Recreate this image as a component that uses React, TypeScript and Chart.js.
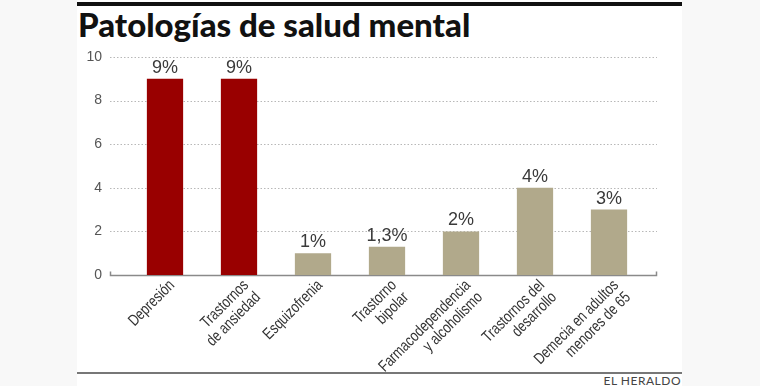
import React, { useEffect, useRef } from "react";
import { Chart, registerables } from "chart.js";

Chart.register(...registerables);

const title = "Patologías de salud mental";
const source = "EL HERALDO";
const categories: string[][] = [
  ["Depresión"],
  ["Trastornos", "de ansiedad"],
  ["Esquizofrenia"],
  ["Trastorno", "bipolar"],
  ["Farmacodependencia", "y alcoholismo"],
  ["Trastornos del", "desarrollo"],
  ["Demecia en adultos", "menores de 65"],
];
const values = [9, 9, 1, 1.3, 2, 4, 3];
const valueLabels = ["9%", "9%", "1%", "1,3%", "2%", "4%", "3%"];
const highlighted = [true, true, false, false, false, false, false];
const yMin = 0;
const yMax = 10;
const yStep = 2;

const RED = "#990000";
const TAN = "#b1a98b";

const gridPlugin = {
  id: "customGrid",
  beforeDatasetsDraw(chart: any) {
    const { ctx, scales } = chart;
    const y = scales.y;
    const left = 110;
    const right = 657;
    ctx.save();
    ctx.strokeStyle = "#b8b8b8";
    ctx.lineWidth = 1;
    ctx.setLineDash([1.5, 2]);
    for (let v = yMin + yStep; v <= yMax; v += yStep) {
      const py = Math.round(y.getPixelForValue(v)) + 0.5;
      ctx.beginPath();
      ctx.moveTo(left, py);
      ctx.lineTo(right, py);
      ctx.stroke();
    }
    ctx.setLineDash([]);
    ctx.strokeStyle = "#8a8a8a";
    ctx.lineWidth = 1.5;
    const by = Math.round(y.getPixelForValue(0)) + 0.5;
    ctx.beginPath();
    ctx.moveTo(left + 0.5, by - 4);
    ctx.lineTo(left + 0.5, by);
    ctx.lineTo(right - 0.5, by);
    ctx.lineTo(right - 0.5, by - 4);
    ctx.stroke();
    ctx.restore();
  },
  afterDatasetsDraw(chart: any) {
    const { ctx, scales, chartArea } = chart;
    const meta = chart.getDatasetMeta(0);
    ctx.save();
    ctx.fillStyle = "#3a3a3a";
    ctx.font = "18px 'Liberation Sans', Arial, sans-serif";
    ctx.textAlign = "center";
    ctx.textBaseline = "alphabetic";
    meta.data.forEach((bar: any, i: number) => {
      ctx.fillText(valueLabels[i], bar.x, bar.y - 6);
    });
    ctx.restore();

    // condensed, rotated category labels
    const x = scales.x;
    const fontSize = 16;
    const lh = 17;
    ctx.save();
    ctx.fillStyle = "#333";
    ctx.font = `${fontSize}px 'Liberation Sans', Arial, sans-serif`;
    ctx.textAlign = "right";
    ctx.textBaseline = "middle";
    categories.forEach((lines, i) => {
      const px = x.getPixelForValue(i);
      ctx.save();
      ctx.translate(px + 1, chartArea.bottom + 2);
      ctx.rotate(-Math.PI / 4);
      ctx.scale(0.79, 1);
      lines.forEach((line, k) => {
        ctx.fillText(line, 0, lh / 2 + k * lh);
      });
      ctx.restore();
    });
    ctx.restore();
  },
};

export default function App() {
  const ref = useRef<HTMLCanvasElement | null>(null);
  useEffect(() => {
    if (!ref.current) return;
    const chart = new Chart(ref.current, {
      type: "bar",
      data: {
        labels: categories.map((c) => c.join(" ")),
        datasets: [
          {
            data: values,
            backgroundColor: highlighted.map((h) => (h ? RED : TAN)),
            borderWidth: 0,
            categoryPercentage: 1,
            barPercentage: 0.49,
          },
        ],
      },
      options: {
        animation: false,
        responsive: false,
        maintainAspectRatio: false,
        layout: { padding: { left: 70, right: 114, top: 57, bottom: 11 } },
        plugins: { legend: { display: false }, tooltip: { enabled: false } },
        scales: {
          x: {
            grid: { display: false, drawTicks: false },
            border: { display: false },
            ticks: { display: false },
            afterFit: (s: any) => {
              s.height = 100;
            },
          },
          y: {
            min: yMin,
            max: yMax,
            grid: { display: false, drawTicks: false },
            border: { display: false },
            ticks: {
              stepSize: yStep,
              padding: 26,
              color: "#555",
              font: { family: "'Liberation Sans', Arial, sans-serif", size: 14 },
            },
            afterFit: (s: any) => {
              s.width = 58;
            },
          },
        },
      },
      plugins: [gridPlugin],
    });
    return () => chart.destroy();
  }, []);

  return (
    <div style={{ position: "fixed", left: 0, top: 0, width: 760, height: 386, background: "#f8f8f8", overflow: "hidden" }}>
      <div style={{ position: "absolute", left: 77, top: 0, width: 605, height: 386, background: "#fff" }} />
      <div style={{ position: "absolute", left: 77, top: 2, width: 605, height: 4, background: "#111" }} />
      <div
        style={{
          position: "absolute",
          left: 78,
          top: 4,
          fontFamily: "Lato, 'Liberation Sans', sans-serif",
          fontWeight: 900,
          fontSize: 33,
          color: "#111",
          whiteSpace: "nowrap",
          lineHeight: "40px",
        }}
      >
        {title}
      </div>
      <div style={{ position: "absolute", left: 77, top: 372, width: 605, height: 2, background: "#777" }} />
      <div
        style={{
          position: "absolute",
          right: 79,
          top: 374,
          fontFamily: "Lato, 'Liberation Sans', sans-serif",
          fontSize: 12,
          color: "#444",
          letterSpacing: 0.5,
          lineHeight: "14px",
        }}
      >
        {source}
      </div>
      <canvas ref={ref} width={760} height={386} style={{ position: "absolute", left: 0, top: 0 }} />
    </div>
  );
}
